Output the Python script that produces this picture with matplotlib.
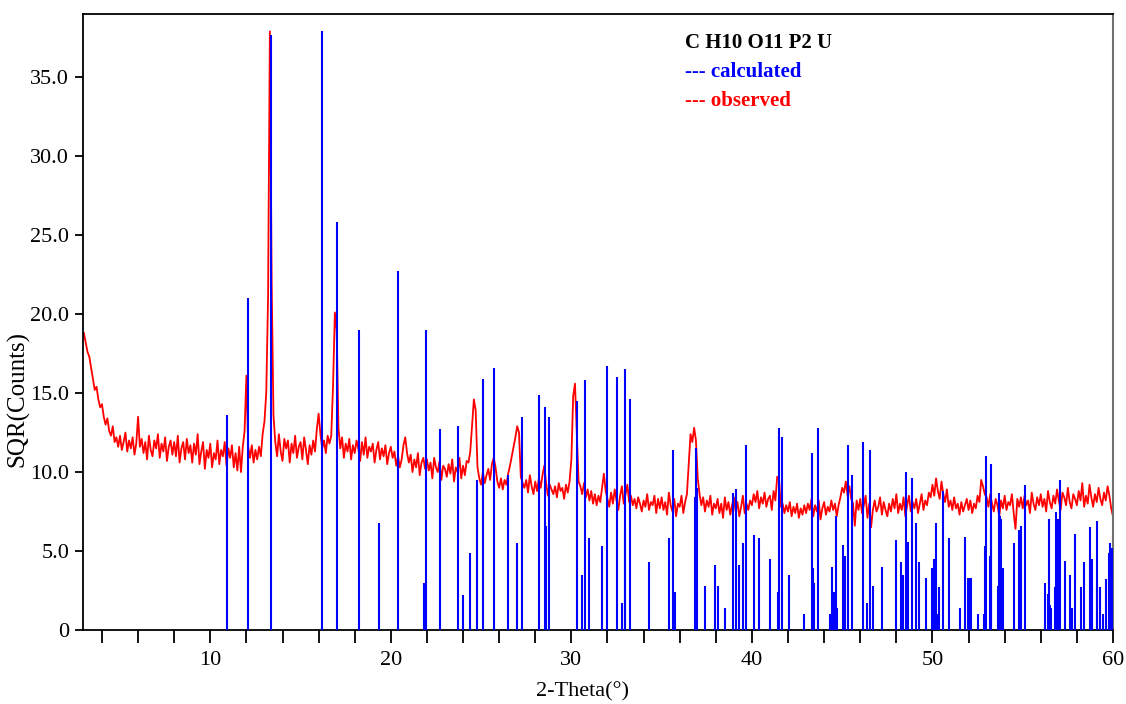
import numpy as np
import matplotlib
matplotlib.use('Agg')
import matplotlib.pyplot as plt

# observed pattern, sampled every 0.1 deg from 3.0 to 60.0
obs_start = 3.0
obs_step = 0.1
observed = [
    18.8, 18.2, 17.6, 17.3, 16.6, 15.9, 15.2, 15.4, 14.6, 14.1,   # 3
    14.3, 13.5, 13.0, 13.4, 12.6, 12.3, 12.9, 11.9, 12.2, 11.6,   # 4
    12.3, 11.4, 11.9, 12.5, 11.3, 12.0, 11.5, 12.2, 11.1, 11.8,   # 5
    13.5, 11.6, 12.1, 11.2, 11.9, 10.8, 12.3, 11.4, 11.0, 12.0,   # 6
    11.5, 12.4, 10.9, 11.8, 11.3, 12.2, 10.7, 11.6, 12.0, 11.1,   # 7
    11.9, 11.0, 12.3, 10.6, 11.5, 11.9, 10.8, 12.1, 11.2, 11.7,   # 8
    10.6, 11.8, 11.1, 12.4, 10.5, 11.3, 11.9, 10.2, 11.4, 10.9,   # 9
    11.8, 10.3, 11.2, 10.8, 12.0, 10.5, 11.4, 11.0, 11.9, 10.4,   # 10
    11.5, 10.9, 11.7, 10.3, 11.2, 10.1, 11.6, 10.0, 11.6, 12.6,   # 11
    16.1, 11.6, 10.9, 11.7, 10.6, 11.4, 10.8, 11.6, 11.0, 12.4,   # 12
    13.2, 15.0, 21.0, 37.9, 22.0, 13.6, 11.9, 11.0, 12.4, 11.3,   # 13
    10.7, 12.1, 11.5, 12.0, 10.6, 11.8, 11.2, 12.3, 10.9, 11.6,   # 14
    11.9, 10.8, 12.2, 11.4, 10.5, 11.7, 11.1, 12.0, 11.3, 12.7,   # 15
    13.7, 12.4, 11.5, 12.0, 11.2, 12.3, 11.8, 12.3, 15.5, 20.1,   # 16
    19.0, 12.8, 11.5, 12.2, 10.9, 11.8, 11.3, 12.1, 10.8, 11.7,   # 17
    11.2, 12.0, 11.5, 10.7, 11.9, 11.1, 12.2, 10.9, 11.6, 11.3,   # 18
    11.8, 10.6, 11.4, 11.9, 10.8, 11.5, 11.0, 11.7, 10.5, 11.2,   # 19
    11.6, 10.9, 11.3, 10.4, 11.0, 10.3, 10.8, 11.7, 12.2, 11.2,   # 20
    10.6, 11.1, 10.0, 10.8, 10.3, 11.2, 9.8, 10.6, 10.9, 10.2,    # 21
    10.8, 10.1, 10.6, 9.6, 10.9, 10.3, 10.0, 10.7, 9.5, 10.4,     # 22
    10.2, 9.7, 10.5, 9.9, 10.8, 9.4, 10.3, 10.0, 10.9, 9.6,       # 23
    10.4, 9.8, 10.7, 10.6, 11.3, 13.0, 14.6, 13.9, 10.3, 9.6,     # 24
    9.2, 10.0, 9.3, 9.8, 10.2, 9.5, 10.5, 10.9, 10.3, 9.4,        # 25
    9.0, 9.6, 8.9, 9.5, 9.2, 9.9, 10.4, 11.0, 11.6, 12.2,         # 26
    12.9, 12.5, 9.7, 9.3, 9.0, 9.5, 8.7, 9.8, 9.1, 8.6,           # 27
    9.4, 8.8, 9.6, 9.0, 9.8, 10.4, 9.3, 8.5, 9.2, 8.9,            # 28
    8.6, 9.1, 8.4, 9.3, 8.8, 9.0, 8.3, 9.2, 8.7, 9.4,             # 29
    10.8, 14.8, 15.6, 12.5, 9.4, 9.1, 8.6, 9.3, 8.4, 8.9,         # 30
    8.2, 8.8, 8.0, 8.6, 7.9, 8.5, 8.1, 9.0, 9.9, 8.8,             # 31
    8.3, 7.8, 8.7, 8.0, 8.9, 8.2, 7.6, 8.5, 9.1, 8.0,             # 32
    8.6, 9.2, 8.1, 8.5, 7.9, 8.3, 7.7, 8.4, 8.0, 7.5,             # 33
    8.2, 7.8, 8.6, 7.6, 8.1, 7.9, 8.5, 7.4, 8.3, 7.7,             # 34
    8.4, 7.6, 8.1, 7.3, 8.7, 7.9, 7.5, 8.3, 7.2, 8.0,             # 35
    7.8, 8.5, 7.4, 8.1, 8.6, 10.5, 12.4, 11.9, 12.8, 12.0,        # 36
    9.6, 8.6, 7.9, 8.4, 7.5, 8.2, 7.8, 8.5, 7.3, 8.0,             # 37
    7.7, 8.3, 7.4, 8.0, 7.1, 8.4, 7.6, 8.1, 7.3, 7.9,             # 38
    8.4, 7.5, 8.1, 7.2, 7.8, 8.5, 7.4, 8.0, 7.6, 8.2,             # 39
    7.9, 8.6, 8.1, 8.8, 7.7, 8.4, 8.0, 8.7, 7.8, 8.3,             # 40
    8.5, 7.6, 8.8, 8.2, 9.7, 9.6, 7.8, 8.0, 7.4, 7.9,             # 41
    7.5, 8.1, 7.2, 7.8, 7.4, 8.0, 7.1, 7.7, 7.3, 7.9,             # 42
    7.4, 8.0, 7.6, 8.3, 7.2, 7.9, 7.5, 8.2, 7.0, 7.7,             # 43
    8.1, 7.3, 7.8, 7.5, 8.2, 7.6, 8.0, 7.2, 7.9, 8.4,             # 44
    9.0, 8.7, 9.4, 8.5, 9.1, 8.3, 8.0, 6.6, 8.2, 7.6,             # 45
    8.3, 7.4, 7.9, 8.5, 7.1, 8.0, 6.5, 7.6, 8.2, 7.5,             # 46
    7.8, 8.4, 7.3, 8.1, 7.6, 7.2, 8.0, 7.5, 8.3, 7.7,             # 47
    8.6, 7.4, 8.0, 7.6, 8.4, 7.2, 7.9, 8.5, 7.5, 8.1,             # 48
    7.7, 8.3, 7.4, 8.0, 8.6, 7.6, 8.2, 7.9, 8.7, 8.4,             # 49
    9.2, 8.5, 9.6, 8.8, 8.3, 9.4, 8.6, 8.1, 8.9, 7.8,             # 50
    8.2, 7.6, 8.4, 7.7, 8.0, 7.3, 8.1, 7.5, 7.9, 8.3,             # 51
    7.6, 8.2, 7.4, 8.0, 7.7, 8.5, 8.1, 9.5, 9.1, 8.6,             # 52
    8.4, 7.8, 8.6, 8.0, 7.5, 8.3, 7.9, 7.2, 8.2, 7.7,             # 53
    8.5, 7.6, 8.1, 7.9, 8.6, 7.4, 6.4, 8.3, 7.8, 8.4,             # 54
    7.7, 8.5, 7.9, 8.2, 7.4, 8.7, 8.0, 7.6, 8.4, 7.9,             # 55
    8.6, 7.8, 8.3, 7.5, 8.8, 8.1, 7.7, 8.5, 8.0, 8.9,             # 56
    8.2, 7.6, 8.7, 8.4, 7.9, 9.0, 8.1, 7.7, 8.6, 8.3,             # 57
    7.9, 8.8, 8.2, 9.3, 7.8, 8.5, 8.0, 9.2, 8.4, 7.8,             # 58
    8.6, 8.1, 9.0, 8.3, 7.9, 8.7, 8.2, 9.1, 8.5, 7.7,             # 59
    7.2,                                                          # 60
]

# calculated reflections (stick pattern)
calc_2theta = [
    10.91, 12.09, 13.38, 16.20, 17.03, 18.24, 19.35, 20.40, 21.84, 21.97,
    22.71, 23.70, 24.02, 24.39, 24.80, 25.09, 25.74, 26.47, 26.99, 27.25,
    28.23, 28.54, 28.58, 28.78, 30.33, 30.60, 30.74, 30.96, 31.72, 31.99,
    32.55, 32.79, 32.97, 32.99, 33.23, 34.28, 35.43, 35.62, 35.74, 36.86,
    36.92, 36.98, 37.38, 37.93, 38.14, 38.49, 38.95, 39.11, 39.30, 39.52,
    39.65, 40.09, 40.42, 41.01, 41.42, 41.49, 41.64, 42.08, 42.91, 43.34,
    43.36, 43.46, 43.65, 44.30, 44.43, 44.56, 44.63, 44.70, 45.05, 45.18,
    45.33, 45.57, 46.18, 46.38, 46.55, 46.68, 47.18, 47.99, 48.28, 48.38,
    48.54, 48.65, 48.84, 49.10, 49.23, 49.63, 49.99, 50.08, 50.17, 50.23,
    50.39, 50.56, 50.89, 51.50, 51.83, 51.99, 52.07, 52.16, 52.52, 52.87,
    52.92, 52.98, 53.16, 53.22, 53.27, 53.62, 53.66, 53.72, 53.81, 53.88,
    54.53, 54.78, 54.93, 55.10, 56.22, 56.40, 56.45, 56.50, 56.56, 56.76,
    56.85, 56.93, 57.08, 57.32, 57.63, 57.72, 57.91, 58.24, 58.37, 58.70,
    58.81, 58.85, 59.09, 59.13, 59.26, 59.44, 59.63, 59.77, 59.85, 59.93,
]
calc_height = [
    13.6, 21.0, 37.7, 37.9, 25.8, 19.0, 6.8, 22.7, 3.0, 19.0,
    12.7, 12.9, 2.2, 4.9, 9.5, 15.9, 16.6, 9.8, 5.5, 13.5,
    14.9, 14.1, 6.6, 13.5, 14.5, 3.5, 15.8, 5.8, 5.3, 16.7,
    16.0, 1.7, 6.3, 16.5, 14.6, 4.3, 5.8, 11.4, 2.4, 8.4,
    11.5, 9.0, 2.8, 4.1, 2.8, 1.4, 8.7, 8.9, 4.1, 5.5,
    11.7, 6.0, 5.8, 4.5, 2.4, 12.8, 12.2, 3.5, 1.0, 11.2,
    3.9, 3.0, 12.8, 1.0, 4.0, 2.4, 7.2, 1.4, 5.4, 4.7,
    11.7, 9.8, 11.9, 1.7, 11.4, 2.8, 4.0, 5.7, 4.3, 3.5,
    10.0, 5.6, 9.6, 6.8, 4.3, 3.3, 3.9, 4.5, 6.8, 1.0,
    2.7, 8.8, 5.8, 1.4, 5.9, 3.3, 3.3, 3.3, 1.0, 1.0,
    5.3, 11.0, 4.7, 6.4, 10.5, 2.8, 8.7, 7.2, 7.0, 3.9,
    5.5, 6.3, 6.6, 9.2, 3.0, 2.3, 7.0, 1.6, 1.4, 2.7,
    7.5, 7.0, 9.5, 4.4, 3.5, 1.4, 6.1, 2.7, 4.3, 6.5,
    4.5, 2.7, 6.9, 2.8, 2.7, 1.0, 3.2, 4.9, 5.5, 5.2,
]

y_ticks = [0, 5, 10, 15, 20, 25, 30, 35]
y_tick_labels = ['0', '5.0', '10.0', '15.0', '20.0', '25.0', '30.0', '35.0']

plt.rcParams['font.family'] = ['Liberation Serif', 'DejaVu Serif']

fig = plt.figure(figsize=(11.26, 7.04), dpi=100)
ax = fig.add_axes([83 / 1126, 1 - 630 / 704, 1030 / 1126, 616 / 704])

obs_x = obs_start + obs_step * np.arange(len(observed))
ax.plot(obs_x, observed, color='#ff0000', linewidth=1.3, zorder=2)
ax.vlines(calc_2theta, 0, calc_height, color='#0000ff', linewidth=1.5, zorder=3)

ax.set_xlim(2.95, 60.0)
ax.set_ylim(0, 39.0)

# ticks every 2 deg, labels every 10
x_ticks = np.arange(4, 61, 2)
ax.set_xticks(x_ticks)
ax.set_xticklabels([str(t) if t % 10 == 0 else '' for t in x_ticks])
ax.set_yticks(y_ticks)
ax.set_yticklabels(y_tick_labels)
ax.tick_params(axis='x', direction='out', length=9, width=1.3, pad=6, labelsize=16)
ax.tick_params(axis='y', direction='out', length=6, width=1.3, pad=4, labelsize=16)

for side in ['left', 'bottom', 'top']:
    ax.spines[side].set_linewidth(1.3)
    ax.spines[side].set_color('black')
ax.spines['right'].set_linewidth(1.5)
ax.spines['right'].set_color('#707070')

ax.set_xlabel('2-Theta(°)', fontsize=16)
ax.set_ylabel('SQR(Counts)', fontsize=18)
ax.xaxis.set_label_coords(0.485, -0.085)
ax.yaxis.set_label_coords(-0.052, 0.375)

# legend block
ax.text(0.584, 0.953, 'C H10 O11 P2 U', transform=ax.transAxes, fontsize=15,
        fontweight='bold', color='black', va='center', ha='left')
ax.text(0.584, 0.906, '--- calculated', transform=ax.transAxes, fontsize=15,
        fontweight='bold', color='#0000ff', va='center', ha='left')
ax.text(0.584, 0.859, '--- observed', transform=ax.transAxes, fontsize=15,
        fontweight='bold', color='#ff0000', va='center', ha='left')

fig.savefig('out.png', dpi=100)
